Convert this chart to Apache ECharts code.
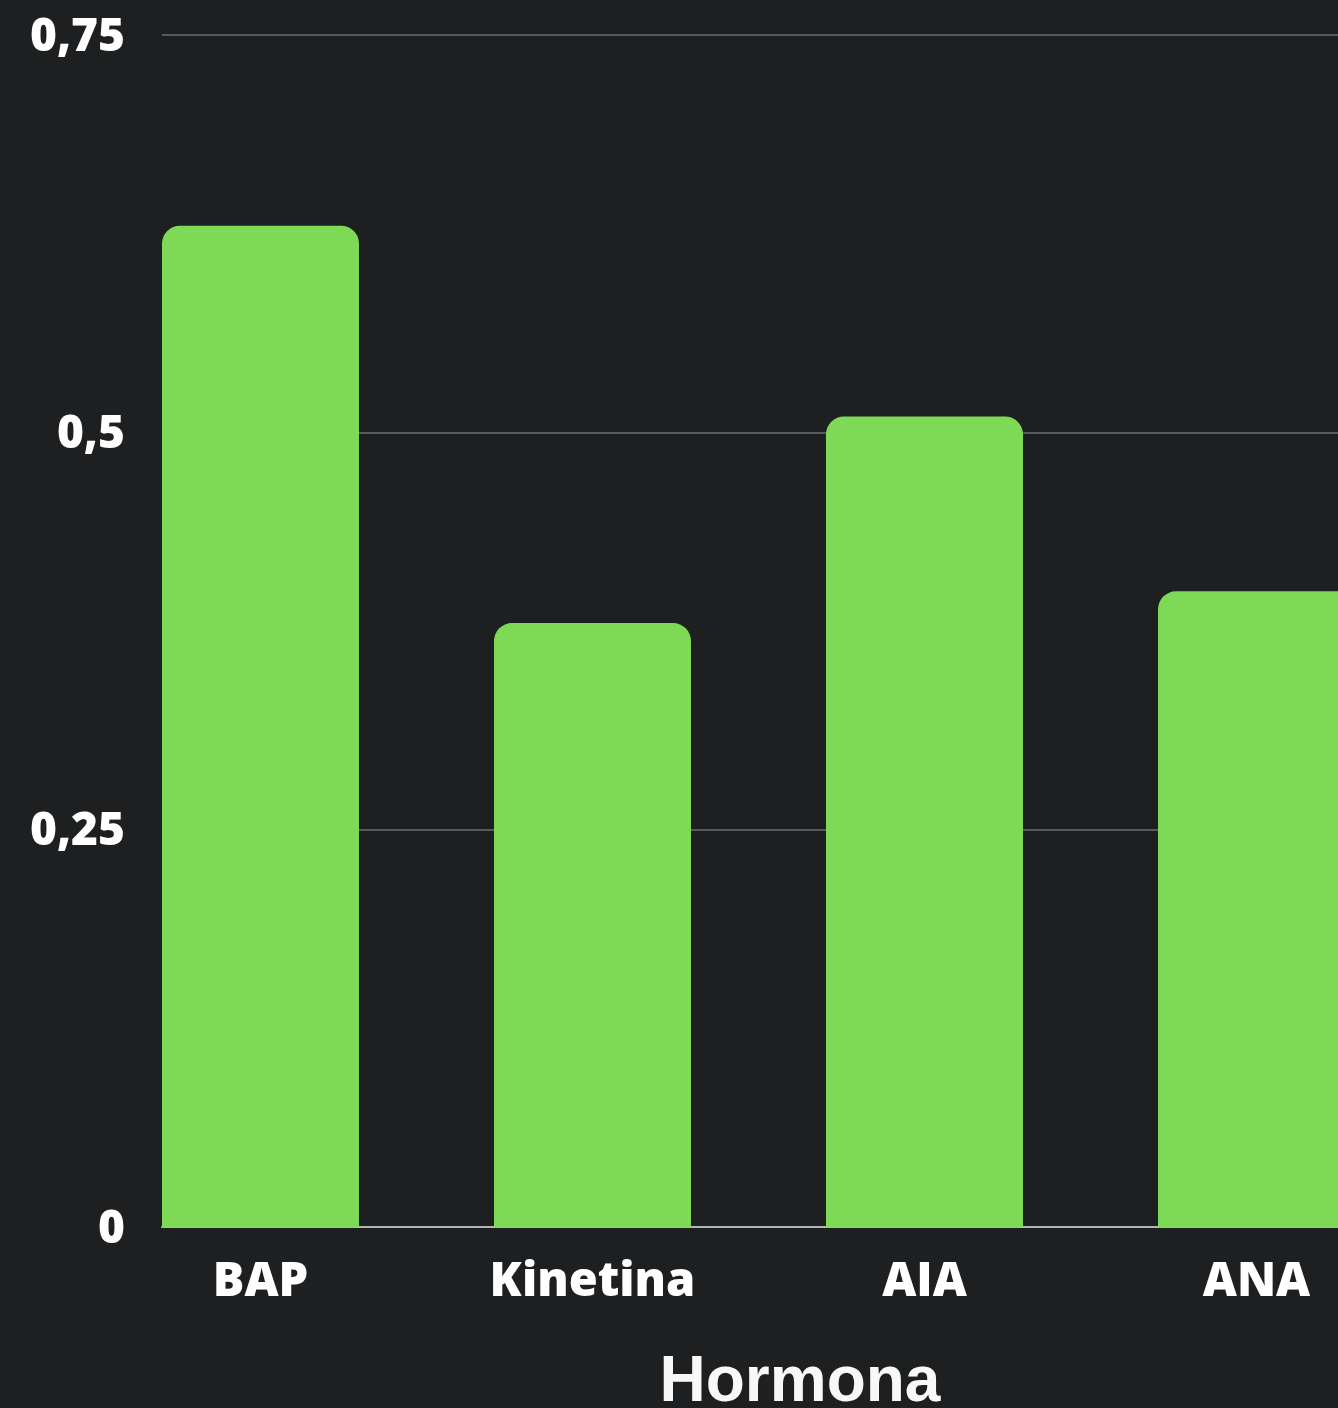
<!DOCTYPE html>
<html>
<head>
<meta charset="utf-8">
<script src="https://cdn.jsdelivr.net/npm/echarts@6/dist/echarts.min.js"></script>
<style>
  html, body { margin: 0; padding: 0; background: #1d1f20; }
  #chart { width: 1338px; height: 1408px; }
</style>
</head>
<body>
<div id="chart"></div>
<script>
// Hormone categories and measured values
const categories = ['BAP', 'Kinetina', 'AIA', 'ANA'];
const values = [0.63, 0.38, 0.51, 0.40];
const yTicks = [0, 0.25, 0.5, 0.75];
const xTitle = 'Hormona';

const BG = '#1d1f20';
const GREEN = '#7ed957';
const LABEL_FONT = '"Open Sans", sans-serif';

// decimal comma for the value axis, nudged slightly below the gridline
const fmt = v => '{v|' + String(v).replace('.', ',') + '}';

const chart = echarts.init(document.getElementById('chart'), null, { renderer: 'canvas' });

chart.setOption({
  backgroundColor: BG,
  animation: false,
  title: {
    text: xTitle,
    left: 800,
    top: 1351,
    textAlign: 'center',
    padding: 0,
    textStyle: {
      color: '#f8f8f8',
      fontFamily: '"Liberation Sans", Arial, sans-serif',
      fontWeight: 'bold',
      fontSize: 64
    }
  },
  grid: [
    // value axis, gridlines and baseline
    { left: 162, right: 0, top: 35, bottom: 181, outerBoundsMode: 'none' },
    // bars and category labels; the last band runs past the right edge
    { left: 94.5, right: -84.5, top: 35, bottom: 181, outerBoundsMode: 'none' }
  ],
  xAxis: [
    {
      gridIndex: 0,
      type: 'category',
      data: categories,
      axisLine: { show: true, lineStyle: { color: '#b4b4b4', width: 2 } },
      axisTick: { show: false },
      axisLabel: { show: false },
      splitLine: { show: false }
    },
    {
      gridIndex: 1,
      type: 'category',
      data: categories,
      axisLine: { show: false },
      axisTick: { show: false },
      axisLabel: {
        color: '#ffffff',
        fontFamily: LABEL_FONT,
        fontWeight: 800,
        fontSize: 47,
        margin: 32
      },
      splitLine: { show: false }
    }
  ],
  yAxis: [
    {
      gridIndex: 0,
      type: 'value',
      min: yTicks[0],
      max: yTicks[yTicks.length - 1],
      interval: yTicks[1] - yTicks[0],
      axisLine: { show: false },
      axisTick: { show: false },
      axisLabel: {
        margin: 37,
        formatter: fmt,
        rich: {
          v: {
            color: '#ffffff',
            fontFamily: LABEL_FONT,
            fontWeight: 800,
            fontSize: 46,
            padding: [5, 0, 0, 0]
          }
        }
      },
      splitLine: { show: true, lineStyle: { color: '#58595a', width: 2 } }
    },
    {
      gridIndex: 1,
      type: 'value',
      min: yTicks[0],
      max: yTicks[yTicks.length - 1],
      show: false,
      splitLine: { show: false }
    }
  ],
  series: [
    {
      type: 'bar',
      xAxisIndex: 1,
      yAxisIndex: 1,
      data: values,
      barWidth: 197,
      itemStyle: { color: GREEN, borderRadius: [18, 18, 0, 0] }
    }
  ]
});
</script>
</body>
</html>
